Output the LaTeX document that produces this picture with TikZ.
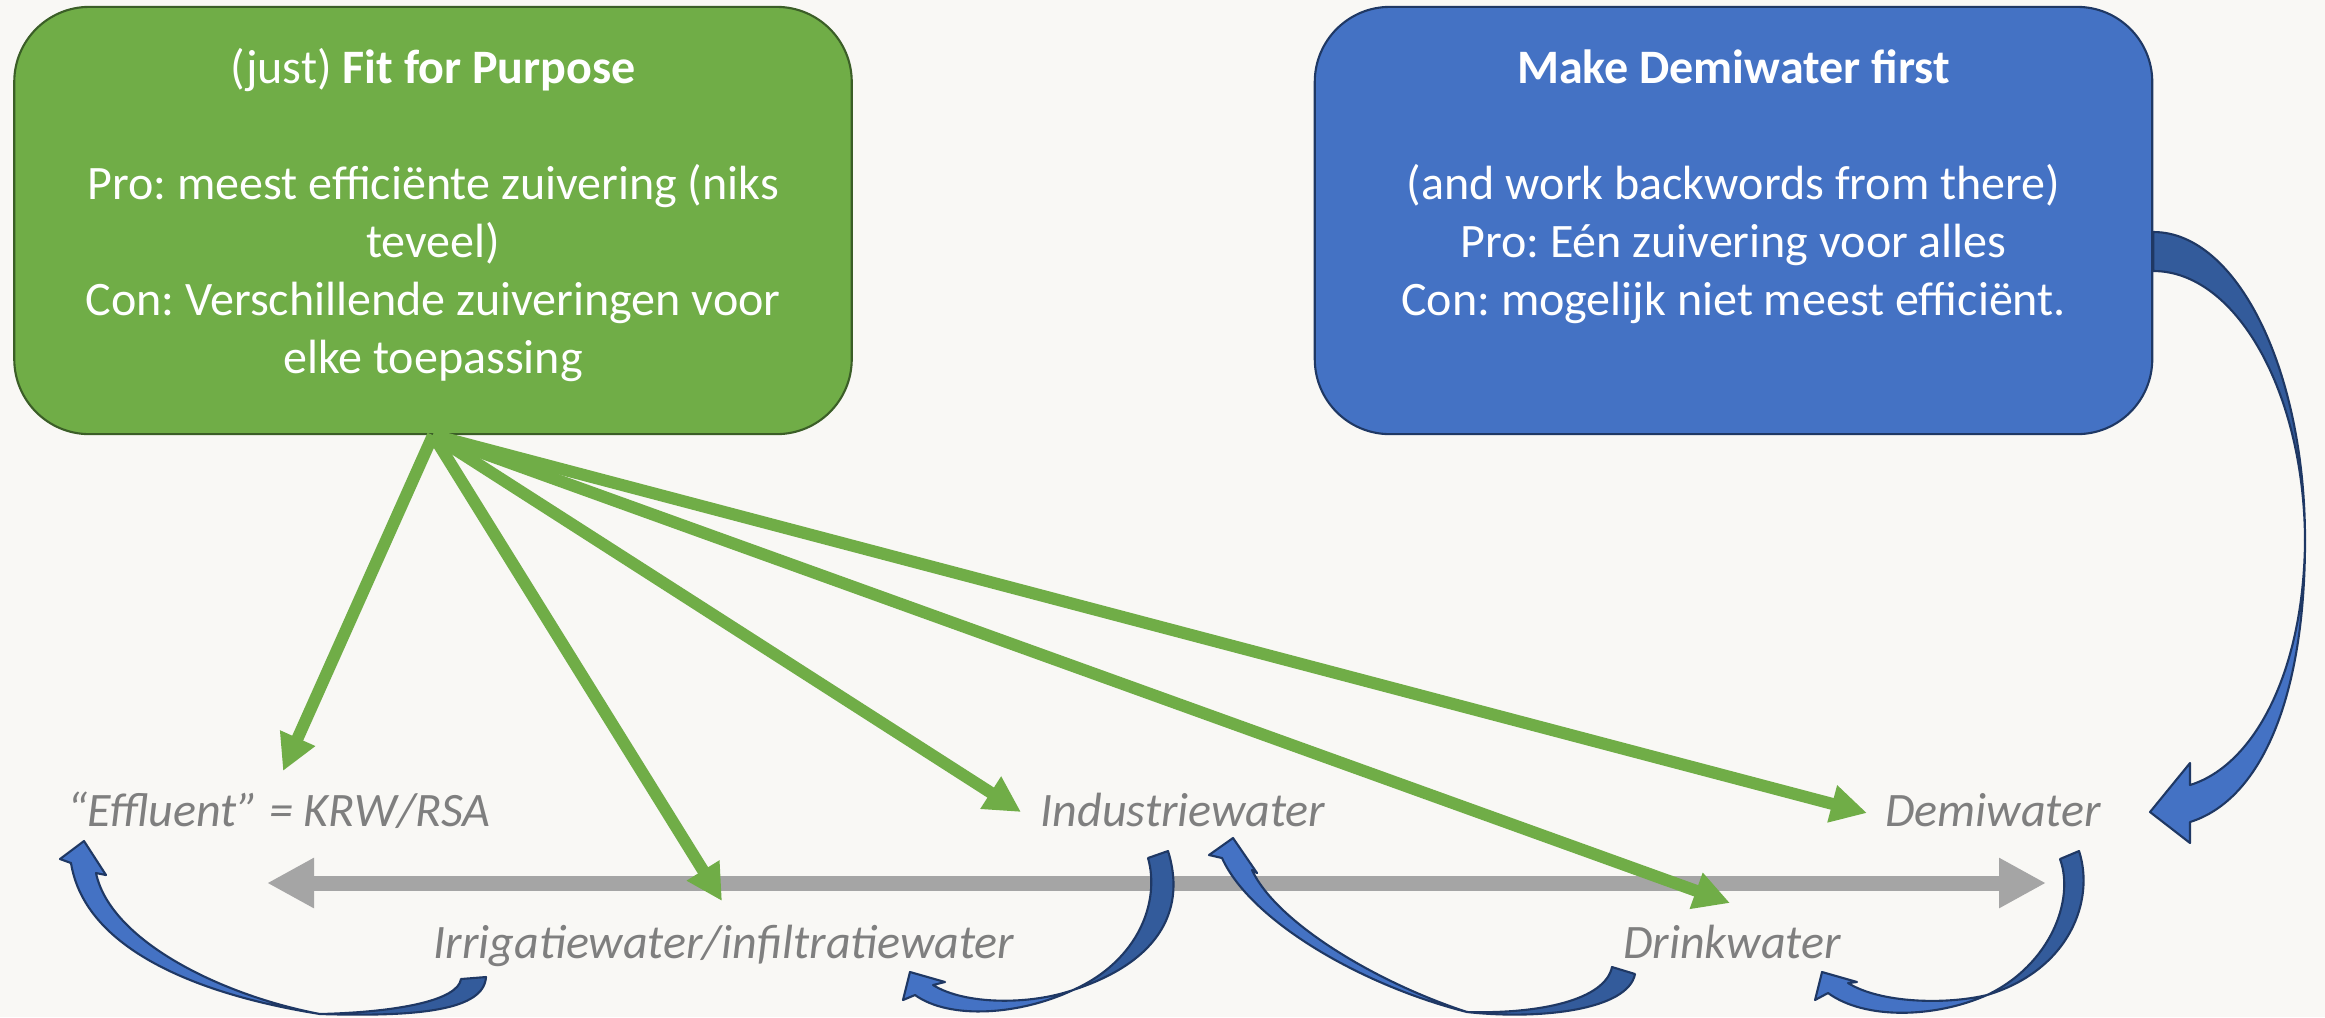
\documentclass[tikz,border=0pt]{standalone}
\usepackage{fontspec}
\setmainfont{Carlito}
\usetikzlibrary{arrows.meta}
\definecolor{bg}{HTML}{F9F8F5}
\definecolor{pptgreen}{HTML}{70AD47}
\definecolor{greenborder}{HTML}{3B5E27}
\definecolor{pptblue}{HTML}{4472C4}
\definecolor{blueborder}{HTML}{1F3864}
\definecolor{darkblue}{HTML}{335B9B}
\definecolor{labelgray}{HTML}{7F7F7F}
\definecolor{arrowgray}{HTML}{A5A5A5}
\frenchspacing
\begin{document}
\begin{tikzpicture}[x=0.01cm,y=-0.01cm,
 box/.style={draw, line width=0.6pt, rounded corners=0.75cm, minimum width=8.37cm, minimum height=4.27cm, inner sep=0pt},
 boxtext/.style={text=white, align=center, anchor=north, inner sep=0pt, font=\fontsize{13.66pt}{16.5pt}\selectfont},
 lbl/.style={text=labelgray, anchor=base, inner sep=0pt, font=\fontsize{13.66pt}{16.5pt}\selectfont\itshape},
 greenarrow/.style={draw=pptgreen, line width=0.12cm, -{Triangle[length=0.36cm,width=0.36cm]}},
 grayarrow/.style={draw=arrowgray, line width=0.15cm, {Triangle[length=0.47cm,width=0.47cm]}-{Triangle[length=0.47cm,width=0.47cm]}},
 curvedark/.style={fill=darkblue, draw=blueborder, line width=0.6pt, line join=round},
 curvelight/.style={fill=pptblue, draw=blueborder, line width=0.6pt, line join=round},
]
\fill[bg] (0,0) rectangle (2325,1017);
\useasboundingbox (0,0) rectangle (2325,1017);

% boxes
\node[box, fill=pptgreen, draw=greenborder] (fit) at (433,220.5) {};
\node[box, fill=pptblue, draw=blueborder] (demi) at (1733.5,220.5) {};
\node[boxtext] (fittext) at (433,42) {\strut(just) \textbf{Fit for Purpose}\\\strut\\\strut Pro: meest efficiënte zuivering (niks\\\strut teveel)\\\strut Con: Verschillende zuiveringen voor\\\strut elke toepassing};
\node[boxtext] (demitext) at (1733.5,42) {\strut\textbf{Make Demiwater first}\\\strut\\\strut(and work backwords from there)\\\strut Pro: Eén zuivering voor alles\\\strut Con: mogelijk niet meest efficiënt.};

% labels
\node[lbl] (eff) at (279,826) {“Effluent” = KRW/RSA};
\node[lbl] (ind) at (1183,826) {Industriewater};
\node[lbl] (dem) at (1993,826) {Demiwater};
\node[lbl] (irr) at (724,958) {Irrigatiewater/infiltratiewater};
\node[lbl] (dri) at (1732,958) {Drinkwater};

% gray double arrow
\coordinate (gL) at (267,883);
\coordinate (gR) at (2046,883);
\draw[grayarrow] (gL) -- (gR);

% green arrows
\coordinate (tEff) at (283,771);
\coordinate (tIrr) at (722,901);
\coordinate (tInd) at (1021,812);
\coordinate (tDri) at (1730,903);
\coordinate (tDem) at (1867,813);
\foreach \t in {tEff,tIrr,tInd,tDri,tDem}
  \draw[greenarrow] (fit.south) -- (\t);

% curved blue arrows
% A: Irrigatie -> Effluent
\filldraw[curvedark] (486,977) .. controls (484,1010) and (420,1017) .. (320,1014)
  .. controls (400,1012) and (458,1000) .. (461,979) -- cycle;
\filldraw[curvelight] (320,1014) .. controls (200,995) and (85,950) .. (71,863)
  -- (60,859) -- (84,841) -- (106,875) -- (96,873)
  .. controls (110,940) and (220,995) .. (320,1014) -- cycle;
% B: Industrie -> Irrigatie
\filldraw[curvedark] (1168,851) .. controls (1185,905) and (1165,960) .. (1073,990)
  .. controls (1140,960) and (1160,900) .. (1148,858) -- cycle;
\filldraw[curvelight] (1073,990) .. controls (1020,1015) and (950,1020) .. (915,995)
  -- (903,1000) -- (910,972) -- (945,982) -- (933,985)
  .. controls (965,1005) and (1030,1005) .. (1073,990) -- cycle;
% C: Drinkwater -> Industrie
\filldraw[curvedark] (1635,974) .. controls (1628,1010) and (1540,1020) .. (1467,1012)
  .. controls (1540,1014) and (1605,1000) .. (1612,967) -- cycle;
\filldraw[curvelight] (1467,1012) .. controls (1360,985) and (1250,920) .. (1222,858)
  -- (1209,855) -- (1233,838) -- (1257,873) -- (1252,870)
  .. controls (1275,920) and (1370,980) .. (1467,1012) -- cycle;
% D: Demi -> Drinkwater
\filldraw[curvedark] (2079,851) .. controls (2095,900) and (2070,970) .. (1987,995)
  .. controls (2050,965) and (2075,900) .. (2060,859) -- cycle;
\filldraw[curvelight] (1987,995) .. controls (1935,1018) and (1865,1020) .. (1828,993)
  -- (1815,1000) -- (1822,972) -- (1857,982) -- (1848,983)
  .. controls (1880,1003) and (1945,1005) .. (1987,995) -- cycle;
% E: big arrow from box to Demiwater
\filldraw[curvedark] (demi.east |- 0,232) .. controls (2237,232) and (2305,370) .. (2305,540)
  .. controls (2304,392) and (2236,271) .. (demi.east |- 0,271) -- cycle;
\filldraw[curvelight] (2305,540) .. controls (2305,700) and (2260,800) .. (2190,822)
  -- (2190,843) -- (2150,812) -- (2190,763) -- (2190,785)
  .. controls (2255,765) and (2304,670) .. (2305,540) -- cycle;
\end{tikzpicture}
\end{document}
